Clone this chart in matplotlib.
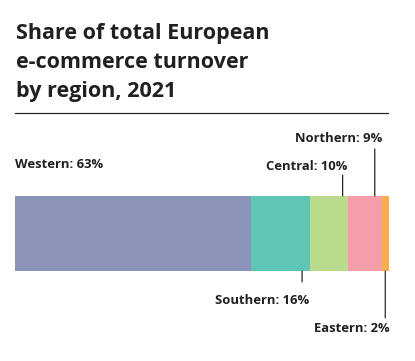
import matplotlib
matplotlib.use("Agg")
import matplotlib.pyplot as plt
from matplotlib import font_manager as fm
from matplotlib.lines import Line2D

# data
regions = ["Western", "Southern", "Central", "Northern", "Eastern"]
shares = [63, 16, 10, 9, 2]
colors = ["#8b93b9", "#5fc5b4", "#b9db8b", "#f59da8", "#f8ad48"]
title_lines = ["Share of total European", "e-commerce turnover", "by region, 2021"]

# label layout (pixels; dpi 72 so 1pt == 1px)
# (line position within segment, line length, text dx, text dy, side)
label_style = {
    "Western":  (None, 0, 0, 31, "top"),
    "Southern": (0.86, 11, 7, -29, "bottom"),
    "Central":  (0.86, 21, 5, 30, "top"),
    "Northern": (0.80, 47, 7, 58, "top"),
    "Eastern":  (0.50, 47, 4, -57, "bottom"),
}

W, H = 415, 361
DPI = 72
INK = "#231f20"

bold_file = next((f.fname for f in fm.fontManager.ttflist
                  if f.fname.endswith("OpenSans-Bold.ttf")), None)
if bold_file:
    title_font = fm.FontProperties(fname=bold_file, size=21.5)
    label_font = fm.FontProperties(fname=bold_file, size=13)
else:
    title_font = fm.FontProperties(family="DejaVu Sans", weight="bold", size=19)
    label_font = fm.FontProperties(family="DejaVu Sans", weight="bold", size=11.5)

fig = plt.figure(figsize=(W / DPI, H / DPI), dpi=DPI)
fig.patch.set_facecolor("white")

# title
for i, line in enumerate(title_lines):
    fig.text(16 / W, 1 - (39 + 29 * i) / H, line, fontproperties=title_font,
             color=INK, va="baseline", ha="left")
fig.add_artist(Line2D([15 / W, 388 / W], [1 - 113 / H] * 2, transform=fig.transFigure,
                      color=INK, lw=1.2))

# bar axes: x 15..389, y 196..271
ax = fig.add_axes([15 / W, 1 - 271 / H, 374 / W, 75 / H])
left = 0
for name, val, c in zip(regions, shares, colors):
    ax.barh(0.5, val, left=left, height=1, color=c, edgecolor="none")
    pos, ln, dx, dy, side = label_style[name]
    ybase = 1 if side == "top" else 0
    sign = 1 if side == "top" else -1
    if pos is None:
        xa = left
        ha = "left"
    else:
        xa = left + val * pos
        ha = "right"
        ax.annotate("", xy=(xa, ybase), xycoords=("data", "axes fraction"),
                    xytext=(0, sign * ln), textcoords="offset points",
                    arrowprops=dict(arrowstyle="-", color=INK, lw=1.2,
                                    shrinkA=0, shrinkB=0))
    ax.annotate(f"{name}: {val}%", xy=(xa, ybase), xycoords=("data", "axes fraction"),
                xytext=(dx, dy), textcoords="offset points", ha=ha, va="center",
                fontproperties=label_font, color=INK, annotation_clip=False)
    left += val

ax.set_xlim(0, sum(shares))
ax.set_ylim(0, 1)
ax.axis("off")

fig.savefig("out.png", dpi=DPI, facecolor="white")
